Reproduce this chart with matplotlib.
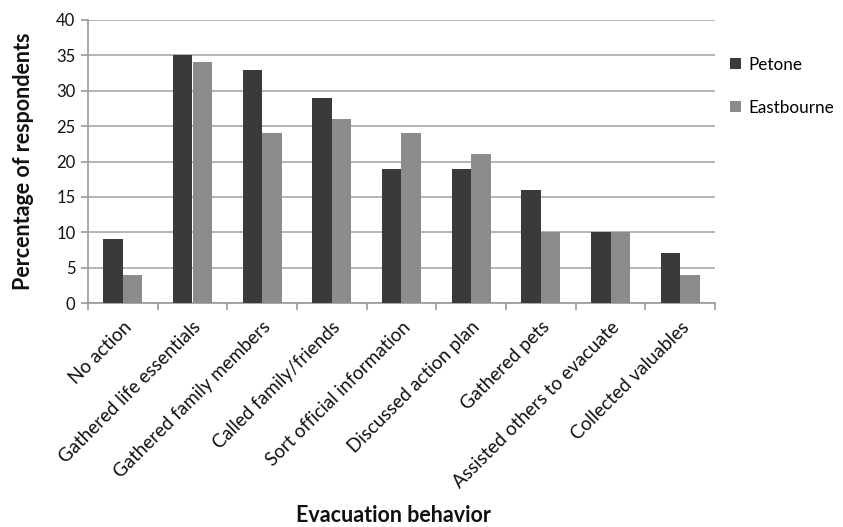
import matplotlib
matplotlib.use("Agg")
import matplotlib.pyplot as plt
import matplotlib.transforms as mtransforms
import numpy as np

categories = ["No action", "Gathered life essentials", "Gathered family members",
              "Called family/friends", "Sort official information",
              "Discussed action plan", "Gathered pets",
              "Assisted others to evacuate", "Collected valuables"]
petone = [9, 35, 33, 29, 19, 19, 16, 10, 7]
eastbourne = [4, 34, 24, 26, 24, 21, 10, 10, 4]
yticks = [0, 5, 10, 15, 20, 25, 30, 35, 40]

plt.rcParams['font.family'] = ['Lato', 'DejaVu Sans']

fig = plt.figure(figsize=(8.43, 5.27), dpi=100)
ax = fig.add_axes([88/843, 1-303/527, (715-88)/843, (303-20)/527])

x = np.arange(len(categories))
w = 0.28
ax.bar(x - w/2, petone, w, color="#3a3a3a", label="Petone", zorder=3)
ax.bar(x + w/2, eastbourne, w, color="#8c8c8c", label="Eastbourne", zorder=3)

ax.set_xlim(-0.5, len(categories) - 0.5)
ax.set_ylim(0, 40)
ax.set_yticks(yticks)
ax.yaxis.grid(True, color="#a8a8a8", linewidth=1.2, zorder=0)
ax.set_axisbelow(True)

for s in ["top", "right"]:
    ax.spines[s].set_visible(False)
for s in ["left", "bottom"]:
    ax.spines[s].set_color("#9a9a9a")
    ax.spines[s].set_linewidth(1.2)

# category boundary ticks on the x axis, labels at the centres
ax.set_xticks(np.arange(-0.5, len(categories)), minor=False)
ax.set_xticklabels([])
ax.set_xticks(x, minor=True)
ax.set_xticklabels(categories, minor=True, rotation=45, ha="right",
                   rotation_mode="anchor", fontsize=13.5, color="#111111")
shift = mtransforms.ScaledTranslation(5/100, 0, fig.dpi_scale_trans)
for lbl in ax.get_xticklabels(minor=True):
    lbl.set_transform(lbl.get_transform() + shift)
ax.tick_params(axis="x", which="major", length=5, color="#9a9a9a", width=1.2)
ax.tick_params(axis="x", which="minor", length=0, pad=11)
ax.tick_params(axis="y", length=5, color="#9a9a9a", width=1.2,
               labelsize=12, labelcolor="#111111", pad=4)

ax.set_ylabel("Percentage of respondents", fontsize=15.5, fontweight="bold",
              labelpad=16, color="#111111")
fig.text(393/843, 1-515/527, "Evacuation behavior", fontsize=15.5,
         fontweight="bold", ha="center", va="center", color="#111111")

leg = ax.legend(loc="upper left", bbox_to_anchor=(1.0, 0.925), frameon=False,
                fontsize=12.3, handlelength=0.6, handleheight=0.6,
                labelspacing=1.6, handletextpad=0.45)

fig.savefig("out.png", dpi=100)
